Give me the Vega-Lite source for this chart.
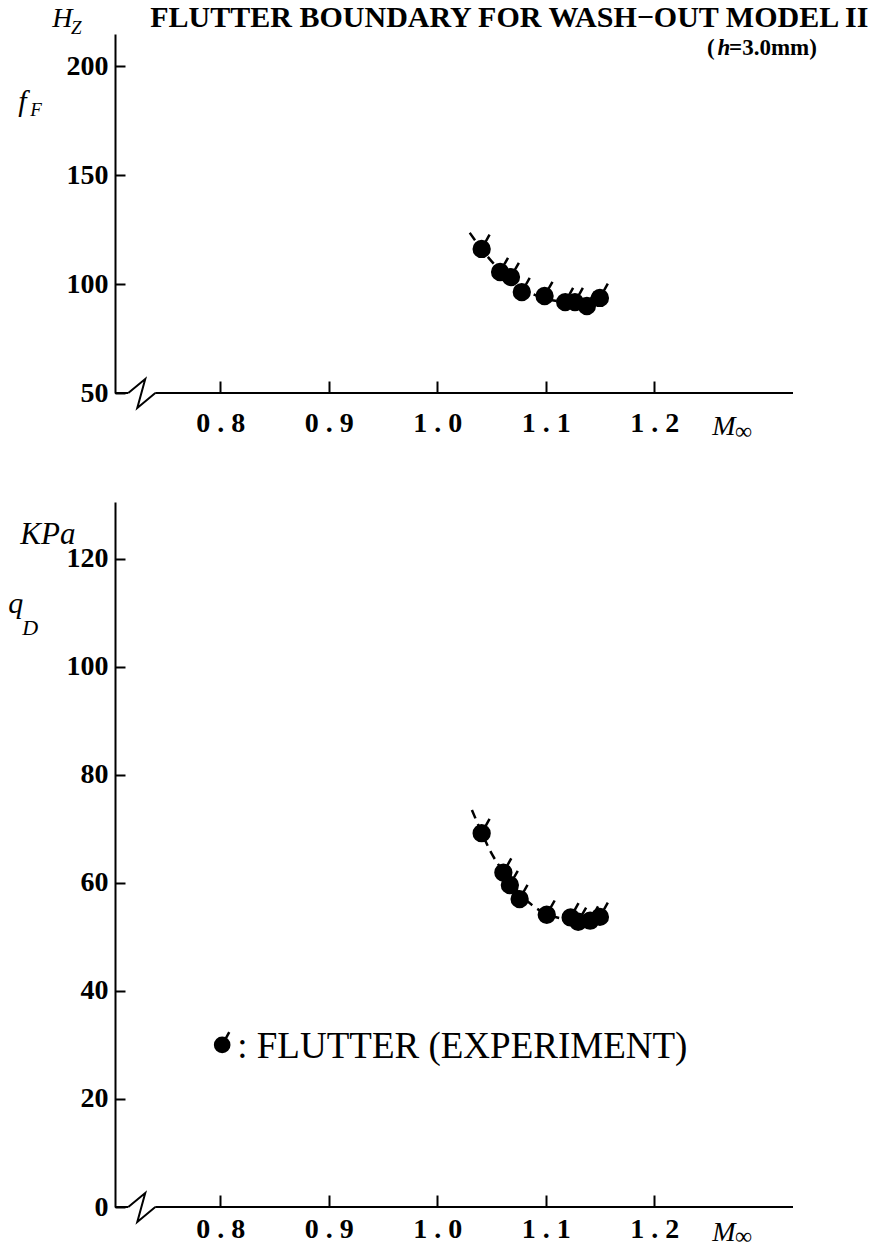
{
  "$schema": "https://vega.github.io/schema/vega-lite/v6.json",
  "padding": {"left": 8, "top": 3, "right": 0, "bottom": 0},
  "spacing": 58,
  "config": {
    "view": {"stroke": null},
    "axis": {"labelFont": "Liberation Serif", "labelFontWeight": "bold", "labelFontSize": 28, "labelColor": "black", "tickColor": "black", "domainColor": "black", "domainWidth": 2, "tickWidth": 2, "grid": false},
    "text": {"font": "Liberation Serif", "color": "black"}
  },
  "datasets": {
    "topPts": [
      {"M": 1.041, "f": 116.1}, {"M": 1.058, "f": 105.5}, {"M": 1.068, "f": 103.2},
      {"M": 1.078, "f": 96.3}, {"M": 1.099, "f": 94.5}, {"M": 1.118, "f": 91.7},
      {"M": 1.127, "f": 91.7}, {"M": 1.138, "f": 89.9}, {"M": 1.150, "f": 93.6}
    ],
    "topCurve": [
      {"M": 1.030, "f": 123.5}, {"M": 1.041, "f": 116}, {"M": 1.05, "f": 110.5}, {"M": 1.06, "f": 105.2},
      {"M": 1.07, "f": 101}, {"M": 1.08, "f": 97.3}, {"M": 1.09, "f": 95}, {"M": 1.10, "f": 93.3},
      {"M": 1.115, "f": 91.8}, {"M": 1.13, "f": 91.3}, {"M": 1.145, "f": 91.8}, {"M": 1.155, "f": 93}
    ],
    "botPts": [
      {"M": 1.041, "q": 69.2}, {"M": 1.061, "q": 61.9}, {"M": 1.067, "q": 59.6},
      {"M": 1.076, "q": 57.0}, {"M": 1.101, "q": 54.1}, {"M": 1.123, "q": 53.6},
      {"M": 1.130, "q": 52.8}, {"M": 1.141, "q": 53.0}, {"M": 1.150, "q": 53.7}
    ],
    "botCurve": [
      {"M": 1.032, "q": 73.5}, {"M": 1.041, "q": 69.3}, {"M": 1.05, "q": 65.5}, {"M": 1.06, "q": 62.3},
      {"M": 1.07, "q": 59.5}, {"M": 1.08, "q": 57.2}, {"M": 1.09, "q": 55.5}, {"M": 1.10, "q": 54.3},
      {"M": 1.115, "q": 53.4}, {"M": 1.13, "q": 53.0}, {"M": 1.145, "q": 53.3}, {"M": 1.155, "q": 54}
    ],
    "one": [{}]
  },
  "vconcat": [
    {
      "width": 678,
      "height": 359,
      "layer": [
        {
          "data": {"name": "topPts"},
          "mark": {"type": "point", "shape": "M-0.5,0A0.5,0.5,0,1,1,0.5,0A0.5,0.5,0,1,1,-0.5,0ZM0.22,-0.4L0.5,-0.9", "size": 1000, "filled": true, "fill": "black", "stroke": "black", "strokeWidth": 2.5, "opacity": 1},
          "encoding": {
            "x": {"field": "M", "type": "quantitative", "title": null, "scale": {"domain": [0.703, 1.328], "nice": false, "zero": false},
              "axis": {"values": [0.8, 0.9, 1.0, 1.1, 1.2], "domain": false, "tickSize": -12, "labelPadding": 28, "labelExpr": "replace(format(datum.value, '.1f'), '.', ' . ')"}},
            "y": {"field": "f", "type": "quantitative", "title": null, "scale": {"domain": [50, 214.7], "nice": false, "zero": false},
              "axis": {"values": [50, 100, 150, 200], "tickSize": -10, "labelPadding": 17}}
          }
        },
        {
          "data": {"name": "topCurve"},
          "mark": {"type": "line", "color": "black", "strokeWidth": 2.5, "strokeDash": [9, 6], "interpolate": "monotone"},
          "encoding": {"x": {"field": "M", "type": "quantitative"}, "y": {"field": "f", "type": "quantitative"}}
        },
        {
          "data": {"name": "one"},
          "mark": {"type": "rule", "color": "black", "strokeWidth": 2},
          "encoding": {"x": {"datum": 0.703}, "x2": {"datum": 0.7152}, "y": {"datum": 50}}
        },
        {
          "data": {"name": "one"},
          "mark": {"type": "rule", "color": "black", "strokeWidth": 2},
          "encoding": {"x": {"datum": 0.7401}, "x2": {"datum": 1.328}, "y": {"datum": 50}}
        },
        {
          "data": {"name": "one"},
          "mark": {"type": "point", "shape": "M-0.9,0L0.23,-0.93L-0.3,1L0.9,0", "size": 900, "filled": false, "stroke": "black", "strokeWidth": 2, "opacity": 1},
          "encoding": {"x": {"datum": 0.7277}, "y": {"datum": 50}}
        },
        {
          "data": {"name": "one"},
          "mark": {"type": "text", "text": "FLUTTER BOUNDARY FOR WASH−OUT MODEL II", "fontSize": 30, "fontWeight": "bold", "align": "left", "baseline": "alphabetic"},
          "encoding": {"x": {"datum": 0.7355}, "y": {"datum": 217.9}}
        },
        {
          "data": {"name": "one"},
          "mark": {"type": "text", "text": "(", "fontSize": 23, "fontWeight": "bold", "align": "left", "baseline": "alphabetic"},
          "encoding": {"x": {"datum": 1.2488}, "y": {"datum": 205}}
        },
        {
          "data": {"name": "one"},
          "mark": {"type": "text", "text": "h", "fontSize": 23, "fontWeight": "bold", "fontStyle": "italic", "align": "left", "baseline": "alphabetic"},
          "encoding": {"x": {"datum": 1.2585}, "y": {"datum": 205}}
        },
        {
          "data": {"name": "one"},
          "mark": {"type": "text", "text": "=3.0mm)", "fontSize": 23, "fontWeight": "bold", "align": "left", "baseline": "alphabetic"},
          "encoding": {"x": {"datum": 1.2691}, "y": {"datum": 205}}
        },
        {
          "data": {"name": "one"},
          "mark": {"type": "text", "text": "H", "fontSize": 28, "fontStyle": "italic", "align": "left", "baseline": "alphabetic"},
          "encoding": {"x": {"datum": 0.6452}, "y": {"datum": 217.9}}
        },
        {
          "data": {"name": "one"},
          "mark": {"type": "text", "text": "Z", "fontSize": 19, "fontStyle": "italic", "align": "left", "baseline": "alphabetic"},
          "encoding": {"x": {"datum": 0.6625}, "y": {"datum": 214.6}}
        },
        {
          "data": {"name": "one"},
          "mark": {"type": "text", "text": "f", "fontSize": 30, "fontStyle": "italic", "align": "left", "baseline": "alphabetic"},
          "encoding": {"x": {"datum": 0.6138}, "y": {"datum": 179.4}}
        },
        {
          "data": {"name": "one"},
          "mark": {"type": "text", "text": "F", "fontSize": 19, "fontStyle": "italic", "align": "left", "baseline": "alphabetic"},
          "encoding": {"x": {"datum": 0.6249}, "y": {"datum": 177.1}}
        },
        {
          "data": {"name": "one"},
          "mark": {"type": "text", "text": "M", "fontSize": 28, "fontStyle": "italic", "align": "left", "baseline": "alphabetic"},
          "encoding": {"x": {"datum": 1.2535}, "y": {"datum": 30.7}}
        },
        {
          "data": {"name": "one"},
          "mark": {"type": "text", "text": "∞", "fontSize": 24, "align": "left", "baseline": "alphabetic"},
          "encoding": {"x": {"datum": 1.2745}, "y": {"datum": 28.9}}
        }
      ]
    },
    {
      "width": 678,
      "height": 705,
      "layer": [
        {
          "data": {"name": "botPts"},
          "mark": {"type": "point", "shape": "M-0.5,0A0.5,0.5,0,1,1,0.5,0A0.5,0.5,0,1,1,-0.5,0ZM0.22,-0.4L0.5,-0.9", "size": 1000, "filled": true, "fill": "black", "stroke": "black", "strokeWidth": 2.5, "opacity": 1},
          "encoding": {
            "x": {"field": "M", "type": "quantitative", "title": null, "scale": {"domain": [0.703, 1.328], "nice": false, "zero": false},
              "axis": {"values": [0.8, 0.9, 1.0, 1.1, 1.2], "domain": false, "tickSize": -12, "labelPadding": 20, "labelExpr": "replace(format(datum.value, '.1f'), '.', ' . ')"}},
            "y": {"field": "q", "type": "quantitative", "title": null, "scale": {"domain": [0, 130.5], "nice": false, "zero": false},
              "axis": {"values": [0, 20, 40, 60, 80, 100, 120], "tickSize": -10, "labelPadding": 17}}
          }
        },
        {
          "data": {"name": "botCurve"},
          "mark": {"type": "line", "color": "black", "strokeWidth": 2.5, "strokeDash": [9, 6], "interpolate": "monotone"},
          "encoding": {"x": {"field": "M", "type": "quantitative"}, "y": {"field": "q", "type": "quantitative"}}
        },
        {
          "data": {"name": "one"},
          "mark": {"type": "rule", "color": "black", "strokeWidth": 2},
          "encoding": {"x": {"datum": 0.703}, "x2": {"datum": 0.7152}, "y": {"datum": 0}}
        },
        {
          "data": {"name": "one"},
          "mark": {"type": "rule", "color": "black", "strokeWidth": 2},
          "encoding": {"x": {"datum": 0.7401}, "x2": {"datum": 1.328}, "y": {"datum": 0}}
        },
        {
          "data": {"name": "one"},
          "mark": {"type": "point", "shape": "M-0.9,0L0.23,-0.93L-0.3,1L0.9,0", "size": 900, "filled": false, "stroke": "black", "strokeWidth": 2, "opacity": 1},
          "encoding": {"x": {"datum": 0.7277}, "y": {"datum": 0}}
        },
        {
          "data": {"name": "one"},
          "mark": {"type": "point", "shape": "M-0.5,0A0.5,0.5,0,1,1,0.5,0A0.5,0.5,0,1,1,-0.5,0ZM0.22,-0.4L0.5,-0.9", "size": 800, "filled": true, "fill": "black", "stroke": "black", "strokeWidth": 2.5, "opacity": 1},
          "encoding": {"x": {"datum": 0.8018}, "y": {"datum": 30}}
        },
        {
          "data": {"name": "one"},
          "mark": {"type": "text", "text": ": FLUTTER (EXPERIMENT)", "fontSize": 37, "align": "left", "baseline": "alphabetic"},
          "encoding": {"x": {"datum": 0.8157}, "y": {"datum": 27.6}}
        },
        {
          "data": {"name": "one"},
          "mark": {"type": "text", "text": "KPa", "fontSize": 31, "fontStyle": "italic", "align": "left", "baseline": "alphabetic"},
          "encoding": {"x": {"datum": 0.6157}, "y": {"datum": 122.8}}
        },
        {
          "data": {"name": "one"},
          "mark": {"type": "text", "text": "q", "fontSize": 30, "fontStyle": "italic", "align": "left", "baseline": "alphabetic"},
          "encoding": {"x": {"datum": 0.6047}, "y": {"datum": 110}}
        },
        {
          "data": {"name": "one"},
          "mark": {"type": "text", "text": "D", "fontSize": 22, "fontStyle": "italic", "align": "left", "baseline": "alphabetic"},
          "encoding": {"x": {"datum": 0.6175}, "y": {"datum": 105.9}}
        },
        {
          "data": {"name": "one"},
          "mark": {"type": "text", "text": "M", "fontSize": 28, "fontStyle": "italic", "align": "left", "baseline": "alphabetic"},
          "encoding": {"x": {"datum": 1.2535}, "y": {"datum": -6.3}}
        },
        {
          "data": {"name": "one"},
          "mark": {"type": "text", "text": "∞", "fontSize": 24, "align": "left", "baseline": "alphabetic"},
          "encoding": {"x": {"datum": 1.2745}, "y": {"datum": -6.9}}
        }
      ]
    }
  ]
}
